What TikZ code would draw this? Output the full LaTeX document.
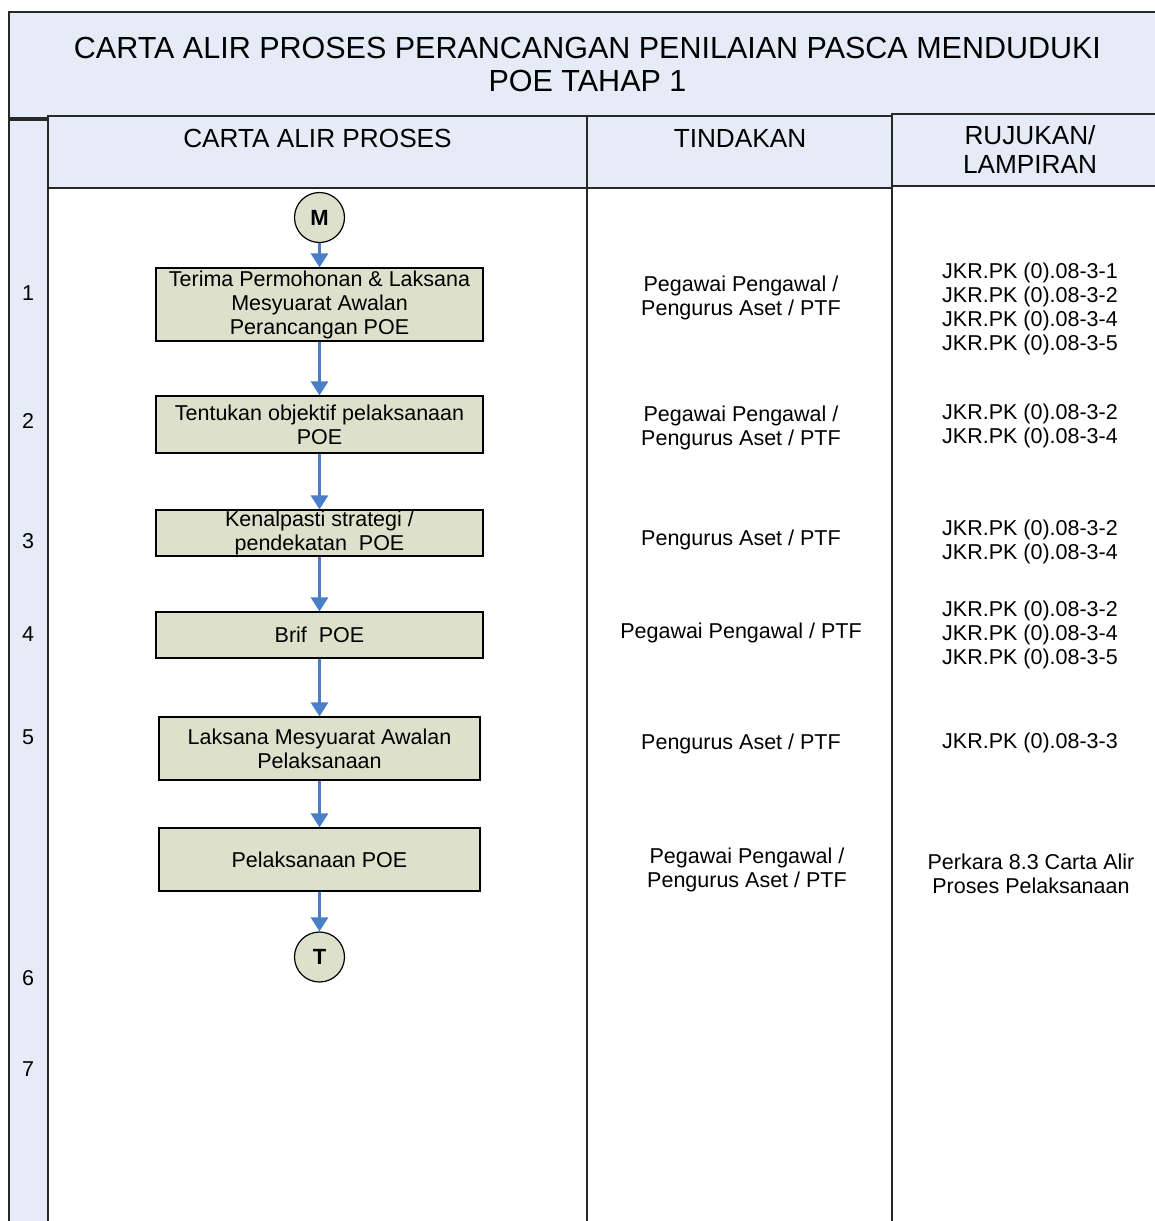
\documentclass[tikz,border=0pt]{standalone}
\usepackage{fontspec}
\setmainfont{Liberation Sans}
\usetikzlibrary{arrows.meta}
\definecolor{hdrblue}{RGB}{229,236,247}
\definecolor{boxfill}{RGB}{221,224,203}
\definecolor{flowblue}{RGB}{74,126,200}
\definecolor{rulecol}{RGB}{40,40,40}
\begin{document}
\begin{tikzpicture}[x=1pt,y=-1pt,
  frame/.style={draw=rulecol,line width=1.3pt},
  hdr/.style={frame,fill=hdrblue},
  txt/.style={font=\fontsize{21.5}{24}\selectfont,align=center,inner sep=0pt},
  hdrtxt/.style={font=\fontsize{26.2}{29}\selectfont,align=center,inner sep=0pt},
  procbox/.style={draw=black,line width=1.2pt,fill=boxfill,txt},
  terminal/.style={circle,draw=black,line width=1.2pt,fill=boxfill,minimum size=50pt,inner sep=0pt,font=\bfseries\fontsize{22}{24}\selectfont},
  flow/.style={draw=flowblue,line width=3pt,-{Triangle[width=17pt,length=14pt]}}
]
\useasboundingbox (0,0) rectangle (1155,1221);
\clip (0,0) rectangle (1155,1221);
% title and frame
\draw[hdr] (9,12) rectangle (1170,118);
\node[font=\fontsize{30.5}{33}\selectfont,align=center,inner sep=0pt] (title) at (587.5,64.5) {CARTA ALIR PROSES PERANCANGAN PENILAIAN PASCA MENDUDUKI\\POE TAHAP 1};
\draw[hdr] (9,120) rectangle (48,1240);
\draw[hdr] (48,116) rectangle (587,188);
\draw[hdr] (587,116) rectangle (892,188);
\draw[hdr] (892,114) rectangle (1170,186);
\draw[frame,fill=white] (48,188) rectangle (587,1240);
\draw[frame,fill=white] (587,188) rectangle (892,1240);
\draw[frame,fill=white] (892,186) rectangle (1170,1240);
% headers
\node[hdrtxt] (h1) at (317.5,138.5) {CARTA ALIR PROSES};
\node[hdrtxt] (h2) at (740,138.5) {TINDAKAN};
\node[hdrtxt] (h3) at (1030,150) {RUJUKAN/\\LAMPIRAN};
% row numbers
\node[txt] (r1) at (28,293) {1};
\node[txt] (r2) at (28,421) {2};
\node[txt] (r3) at (28,541) {3};
\node[txt] (r4) at (28,634) {4};
\node[txt] (r5) at (28,737) {5};
\node[txt] (r6) at (28,978) {6};
\node[txt] (r7) at (28,1069) {7};
% flow
\node[terminal] (M) at (319.5,217.5) {M};
\node[procbox,minimum width=327pt,minimum height=73pt] (b1) at (319.5,304.5) {Terima Permohonan \& Laksana\\Mesyuarat Awalan\\Perancangan POE};
\node[procbox,minimum width=327pt,minimum height=57pt] (b2) at (319.5,424.5) {Tentukan objektif pelaksanaan\\POE};
\node[procbox,minimum width=327pt,minimum height=46pt] (b3) at (319.5,533) {Kenalpasti strategi /\\pendekatan\ \ POE};
\node[procbox,minimum width=327pt,minimum height=46pt] (b4) at (319.5,635) {Brif\ \ POE};
\node[procbox,minimum width=321pt,minimum height=63pt] (b5) at (319.5,748.5) {Laksana Mesyuarat Awalan\\Pelaksanaan};
\node[procbox,minimum width=321pt,minimum height=63pt] (b6) at (319.5,859.5) {Pelaksanaan POE};
\node[terminal] (T) at (319.5,957) {T};
\draw[flow] (M) -- (b1);
\draw[flow] (b1) -- (b2);
\draw[flow] (b2) -- (b3);
\draw[flow] (b3) -- (b4);
\draw[flow] (b4) -- (b5);
\draw[flow] (b5) -- (b6);
\draw[flow] (b6) -- (T);
% tindakan
\node[txt] (t1) at (741,298) {Pegawai Pengawal /\\Pengurus Aset / PTF};
\node[txt] (t2) at (741,428) {Pegawai Pengawal /\\Pengurus Aset / PTF};
\node[txt] (t3) at (741,540) {Pengurus Aset / PTF};
\node[txt] (t4) at (741,633) {Pegawai Pengawal / PTF};
\node[txt] (t5) at (741,744) {Pengurus Aset / PTF};
\node[txt] (t6) at (747,870) {Pegawai Pengawal /\\Pengurus Aset / PTF};
% rujukan
\node[txt] (j1) at (1030,309) {JKR.PK (0).08-3-1\\JKR.PK (0).08-3-2\\JKR.PK (0).08-3-4\\JKR.PK (0).08-3-5};
\node[txt] (j2) at (1030,425.5) {JKR.PK (0).08-3-2\\JKR.PK (0).08-3-4};
\node[txt] (j3) at (1030,542) {JKR.PK (0).08-3-2\\JKR.PK (0).08-3-4};
\node[txt] (j4) at (1030,634.5) {JKR.PK (0).08-3-2\\JKR.PK (0).08-3-4\\JKR.PK (0).08-3-5};
\node[txt] (j5) at (1030,743) {JKR.PK (0).08-3-3};
\node[txt] (j6) at (1031,874) {Perkara 8.3 Carta Alir\\Proses Pelaksanaan};
\end{tikzpicture}
\end{document}
